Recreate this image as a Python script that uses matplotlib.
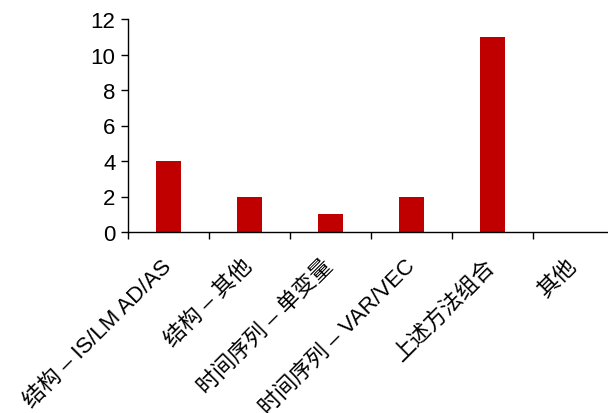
import matplotlib
matplotlib.use("Agg")
import matplotlib.pyplot as plt

categories = ["结构 – IS/LM AD/AS", "结构 – 其他", "时间序列 – 单变量",
              "时间序列 – VAR/VEC", "上述方法组合", "其他"]
counts = [4, 2, 1, 2, 11, 0]
y_ticks = [0, 2, 4, 6, 8, 10, 12]

plt.rcParams['font.family'] = ['Liberation Sans', 'Noto Sans CJK SC', 'DejaVu Sans']

fig = plt.figure(figsize=(6.08, 4.14), dpi=100)
ax = fig.add_axes([128 / 608, 1 - 233 / 414, (614 - 128) / 608, (233 - 20) / 414])

x = list(range(len(categories)))
ax.bar(x, counts, width=0.31, color="#C00000", zorder=2)

ax.set_xlim(-0.5, len(categories) - 0.5)
ax.set_ylim(0, 12)
ax.set_yticks(y_ticks)
ax.set_yticklabels([str(v) for v in y_ticks], fontsize=16)

# ticks at category boundaries, labels at category centres
ax.set_xticks([i - 0.5 for i in x])
ax.set_xticklabels([])
ax.set_xticks(x, minor=True)
ax.set_xticklabels(categories, minor=True, rotation=45, ha='right',
                   va='center', rotation_mode='anchor', fontsize=16)
ax.tick_params(axis='x', which='minor', length=0, pad=22)
ax.tick_params(axis='x', which='major', direction='out', length=5, width=1)
ax.tick_params(axis='y', direction='out', length=5, width=1, pad=4)

for side in ('top', 'right'):
    ax.spines[side].set_visible(False)
for side in ('left', 'bottom'):
    ax.spines[side].set_linewidth(1)
    ax.spines[side].set_color('black')

fig.savefig("out.png", dpi=100)
